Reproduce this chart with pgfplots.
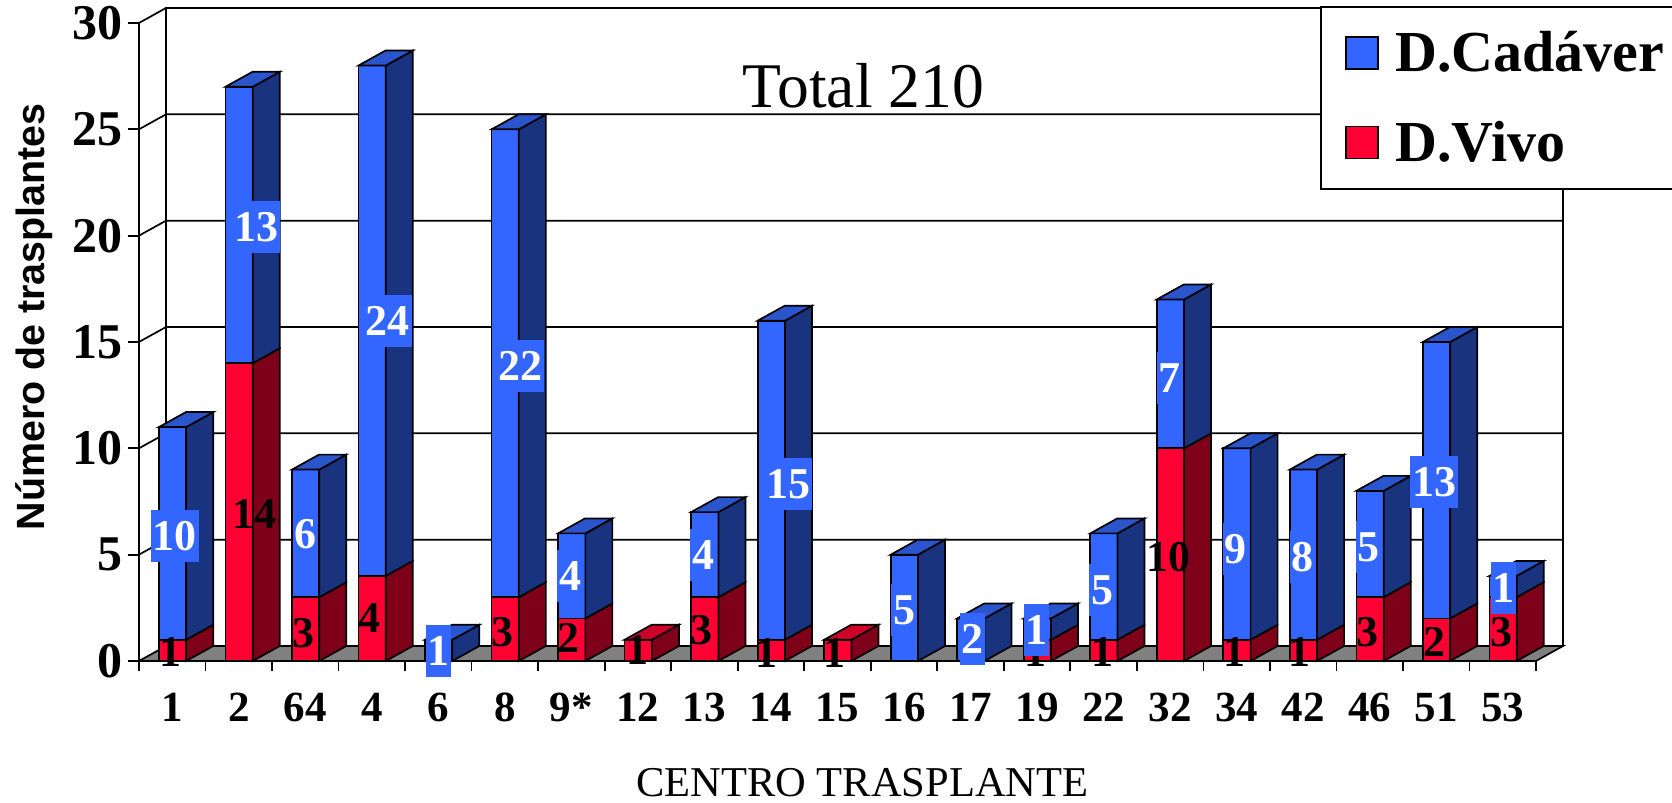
\documentclass[border=0pt]{standalone}
\usepackage{fontspec}
\setmainfont{Liberation Serif}
\newfontfamily\arialf{Liberation Sans}
\usepackage{pgfplots}
\pgfplotsset{compat=1.18}
\definecolor{cadF}{HTML}{3366FF}
\definecolor{cadS}{HTML}{1A337F}
\definecolor{cadT}{HTML}{2A55CC}
\definecolor{vivF}{HTML}{FF0033}
\definecolor{vivS}{HTML}{7F0019}
\definecolor{vivT}{HTML}{CC0029}
\definecolor{floorc}{HTML}{808080}
\pgfplotsset{face/.style={draw=black,line width=0.85pt,line join=miter,forget plot}}
% one stacked 3-D bar: position, D.Vivo, D.Cadaver
\newcommand\drawbar[3]{%
  \pgfmathsetmacro\xl{#1+0.30}%
  \pgfmathsetmacro\xr{#1+0.71}%
  \pgfmathsetmacro\xb{#1+1.116}%
  \pgfmathsetmacro\ya{#2}%
  \pgfmathsetmacro\yab{#2+0.705}%
  \pgfmathsetmacro\yt{#2+#3}%
  \pgfmathsetmacro\ytb{#2+#3+0.705}%
  \ifnum#2>0
    \edef\tmp{\noexpand\addplot[face,fill=vivF] coordinates {(\xl,0)(\xr,0)(\xr,\ya)(\xl,\ya)} -- cycle;
    \noexpand\addplot[face,fill=vivS] coordinates {(\xr,0)(\xb,0.705)(\xb,\yab)(\xr,\ya)} -- cycle;}\tmp
  \fi
  \ifnum#3>0
    \edef\tmp{\noexpand\addplot[face,fill=cadF] coordinates {(\xl,\ya)(\xr,\ya)(\xr,\yt)(\xl,\yt)} -- cycle;
    \noexpand\addplot[face,fill=cadS] coordinates {(\xr,\ya)(\xb,\yab)(\xb,\ytb)(\xr,\yt)} -- cycle;}\tmp
  \fi
  \pgfmathsetmacro\xlb{#1+0.706}%
  \ifnum#3>0
    \edef\tmp{\noexpand\addplot[face,fill=cadT] coordinates {(\xl,\yt)(\xr,\yt)(\xb,\ytb)(\xlb,\ytb)} -- cycle;}\tmp
  \else
    \edef\tmp{\noexpand\addplot[face,fill=vivT] coordinates {(\xl,\yt)(\xr,\yt)(\xb,\ytb)(\xlb,\ytb)} -- cycle;}\tmp
  \fi
}
\newcommand\wallline[2]{\addplot[black,line width=0.85pt,forget plot] coordinates {(0,#1)(0.406,#2)(21.406,#2)};}
\begin{document}
\begin{tikzpicture}
\path[use as bounding box] (0,0) rectangle (836pt,401.5pt);
\begin{axis}[
  at={(69.5pt,71pt)},anchor=south west,
  scale only axis,width=712pt,height=326.5pt,
  xmin=0,xmax=21.406,ymin=0,ymax=30.705,
  clip=false,
  axis line style={draw=none},
  tick align=outside,
  xtick pos=bottom,ytick pos=left,
  xtick={0.5,1.5,2.5,3.5,4.5,5.5,6.5,7.5,8.5,9.5,10.5,11.5,12.5,13.5,14.5,15.5,16.5,17.5,18.5,19.5,20.5},
  xticklabels={1,2,64,4,6,8,9*,12,13,14,15,16,17,19,22,32,34,42,46,51,53},
  minor xtick={0,1,2,3,4,5,6,7,8,9,10,11,12,13,14,15,16,17,18,19,20,21},
  major x tick style={draw=none},
  minor x tick style={black,line width=0.85pt},
  major y tick style={black,line width=0.85pt},
  minor tick length=5pt,
  major tick length=5.5pt,
  ytick={0,5,10,15,20,25,30},
  /pgf/number format/assume math mode=true,
  yticklabel style={font=\fontsize{25}{27}\selectfont\bfseries,xshift=1pt},
  xticklabel style={font=\fontsize{21.5}{24}\selectfont\bfseries,yshift=-7pt},
  xlabel={CENTRO TRASPLANTE},
  ylabel={Número de trasplantes},
  every axis x label/.style={at={(axis description cs:0.508,-0.187)},anchor=center,font=\fontsize{21.25}{24}\selectfont},
  every axis y label/.style={at={(axis description cs:-0.0737,0.527)},rotate=90,anchor=center,font=\arialf\fontsize{19.7}{22}\selectfont\bfseries},
  legend style={at={(axis description cs:0.8294,1.0031)},anchor=north west,draw=black,line width=0.85pt,fill=white,
    font=\fontsize{29}{33}\selectfont\bfseries,inner xsep=12pt,inner ysep=10.4pt,row sep=19pt},
  legend cell align=left,
]
% floor and walls
\addplot[fill=floorc,draw=black,line width=0.85pt,forget plot] coordinates {(0,0)(21,0)(21.406,0.705)(0.406,0.705)} -- cycle;
\addplot[black,line width=0.85pt,forget plot] coordinates {(0.406,0.705)(0.406,30.705)(21.406,30.705)(21.406,0.705)};
\addplot[black,line width=0.85pt,forget plot] coordinates {(0,0)(0,30)};
\wallline{5}{5.705}
\wallline{10}{10.705}
\wallline{15}{15.705}
\wallline{20}{20.705}
\wallline{25}{25.705}
\wallline{30}{30.705}
% bars: position, D.Vivo, D.Cadaver
\drawbar{0}{1}{10}
\drawbar{1}{14}{13}
\drawbar{2}{3}{6}
\drawbar{3}{4}{24}
\drawbar{4}{0}{1}
\drawbar{5}{3}{22}
\drawbar{6}{2}{4}
\drawbar{7}{1}{0}
\drawbar{8}{3}{4}
\drawbar{9}{1}{15}
\drawbar{10}{1}{0}
\drawbar{11}{0}{5}
\drawbar{12}{0}{2}
\drawbar{13}{1}{1}
\drawbar{14}{1}{5}
\drawbar{15}{10}{7}
\drawbar{16}{1}{9}
\drawbar{17}{1}{8}
\drawbar{18}{3}{5}
\drawbar{19}{2}{13}
\drawbar{20}{3}{1}
% value labels of D.Vivo
\addplot[forget plot,only marks,mark=none,point meta=explicit symbolic,nodes near coords,
  nodes near coords align={anchor=center},
  every node near coord/.append style={inner sep=0pt,text=black,font=\fontsize{22}{24}\selectfont\bfseries}]
  table[meta=l] {
x y l
0.48 0.42 1
1.73 6.91 14
2.47 1.32 3
3.46 2.02 4
5.47 1.36 3
6.45 1.08 2
7.50 0.52 1
8.45 1.46 3
9.44 0.38 1
10.45 0.38 1
13.47 0.42 1
14.48 0.42 1
15.47 4.89 10
16.47 0.42 1
17.44 0.42 1
18.47 1.36 3
19.47 0.89 2
20.48 1.36 3
};
% value labels of D.Cadaver
\addplot[forget plot,only marks,mark=none,point meta=explicit symbolic,nodes near coords,
  nodes near coords align={anchor=center},
  every node near coord/.append style={inner xsep=0.9pt,inner ysep=0pt,minimum height=26pt,fill=cadF,text=white,font=\fontsize{22}{24}\selectfont\bfseries}]
  table[meta=l] {
x y l
0.54 5.88 10
1.76 20.40 13
2.50 5.97 6
3.74 15.98 24
4.50 0.47 1
5.73 13.87 22
6.48 4.00 4
8.48 4.98 4
9.76 8.32 15
11.50 2.40 5
12.53 1.03 2
13.49 1.46 1
14.48 3.34 5
15.49 13.31 7
16.48 5.27 9
17.49 4.89 8
18.48 5.36 5
19.47 8.42 13
20.51 3.43 1
};
\node[font=\fontsize{31.8}{35}\selectfont] at (axis cs:10.89,27.03) {Total 210};
\addlegendimage{legend image code/.code={\draw[black,line width=0.85pt,fill=cadF] (0pt,-8pt) rectangle (16pt,8pt); \path (22.3pt,0pt);}}
\addlegendentry{D.Cadáver}
\addlegendimage{legend image code/.code={\draw[black,line width=0.85pt,fill=vivF] (0pt,-8pt) rectangle (16pt,8pt); \path (22.3pt,0pt);}}
\addlegendentry{D.Vivo}
\end{axis}
\end{tikzpicture}
\end{document}
